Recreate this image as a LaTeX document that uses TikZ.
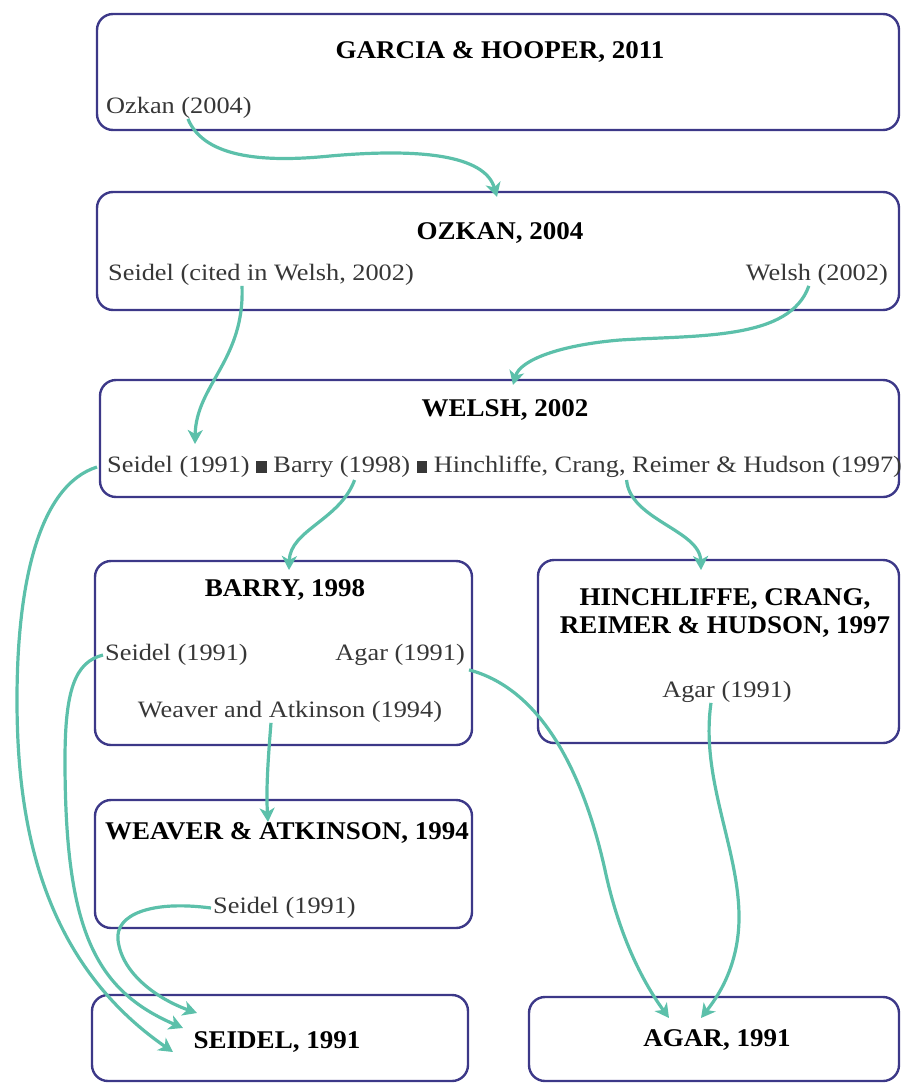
\documentclass[tikz,border=0pt]{standalone}
\usepackage{fontspec}
\setmainfont[FakeStretch=1.12]{Liberation Serif}
\newfontfamily\ttlfont[FakeStretch=1.06]{Liberation Serif}
\usetikzlibrary{arrows.meta}
\definecolor{boxc}{RGB}{60,56,136}
\definecolor{arrc}{RGB}{92,192,170}
\definecolor{reftext}{RGB}{55,55,55}
\tikzset{
  box/.style={draw=boxc, line width=2.4pt, rounded corners=16pt, inner sep=0pt},
  ttl/.style={font=\ttlfont\fontsize{25.5}{28}\selectfont\bfseries, inner sep=0pt, text=black, align=center},
  ref/.style={font=\fontsize{23.5}{27}\selectfont, inner sep=0pt, text=reftext},
  cite/.style={draw=arrc, line width=3.2pt, -{Stealth[length=14pt,width=15pt,inset=4pt]}},
}
\newcommand{\sqsep}{\ \rule{0.45em}{0.5em}\ }
\begin{document}
\begin{tikzpicture}[x=1pt,y=-1pt]
\useasboundingbox (0,0) rectangle (901,1084);
% boxes
\node[box, minimum width=802pt, minimum height=116pt] (bG)  at (498,72) {};
\node[box, minimum width=802pt, minimum height=118pt] (bO)  at (498,251) {};
\node[box, minimum width=799pt, minimum height=117pt] (bW)  at (499.5,438.5) {};
\node[box, minimum width=377pt, minimum height=184pt] (bB)  at (283.5,653) {};
\node[box, minimum width=361pt, minimum height=183pt] (bH)  at (718.5,651.5) {};
\node[box, minimum width=377pt, minimum height=128pt] (bWA) at (283.5,864) {};
\node[box, minimum width=376pt, minimum height=86pt]  (bS)  at (280,1038) {};
\node[box, minimum width=370pt, minimum height=84pt]  (bA)  at (714,1039) {};
% titles
\node[ttl] (hG)  at (500,52)  {GARCIA \& HOOPER, 2011};
\node[ttl] (hO)  at (500,233) {OZKAN, 2004};
\node[ttl] (hW)  at (505,410) {WELSH, 2002};
\node[ttl] (hB)  at (285,590) {BARRY, 1998};
\node[ttl] (hH)  at (725,613) {HINCHLIFFE, CRANG,\\REIMER \& HUDSON, 1997};
\node[ttl] (hWA) at (287,833) {WEAVER \& ATKINSON, 1994};
\node[ttl] (hS)  at (277,1042) {SEIDEL, 1991};
\node[ttl] (hA)  at (717,1040) {AGAR, 1991};
% cited references
\node[ref, anchor=west] (tOzk) at (106,108) {Ozkan (2004)};
\node[ref, anchor=west] (tSC)  at (108,275) {Seidel (cited in Welsh, 2002)};
\node[ref, anchor=east] (tWe)  at (888,275) {Welsh (2002)};
\node[ref, anchor=west] (tWl)  at (107,467) {Seidel (1991)\sqsep Barry (1998)\sqsep Hinchliffe, Crang, Reimer \& Hudson (1997)};
\node[ref, anchor=west] (tBS)  at (105,655) {Seidel (1991)};
\node[ref, anchor=east] (tBA)  at (465,655) {Agar (1991)};
\node[ref] (tBW)  at (290,712) {Weaver and Atkinson (1994)};
\node[ref] (tHA)  at (727,692) {Agar (1991)};
\node[ref, anchor=west] (tWAS) at (213,908) {Seidel (1991)};
% arrow tips
\coordinate (eO)  at (497,197);
\coordinate (eW1) at (195,444);
\coordinate (eW2) at (513,385);
\coordinate (eB)  at (289,570);
\coordinate (eH)  at (701,570);
\coordinate (eWA) at (268,822);
\coordinate (eS1) at (173,1052);
\coordinate (eS2) at (183,1028);
\coordinate (eS3) at (197,1013);
\coordinate (eA1) at (669,1018);
\coordinate (eA2) at (701,1018);
% connectors
\draw[cite] ([xshift=9pt]tOzk.south) .. controls (205,160) and (270,162) .. (330,156)
            .. controls (420,148) and (485,155) .. (eO);
\draw[cite] ([xshift=-19pt]tSC.south) .. controls (245,360) and (196,385) .. (eW1);
\draw[cite] ([xshift=-8pt]tWe.south) .. controls (790,340) and (700,335) .. (620,340)
            .. controls (560,345) and (520,360) .. (eW2);
\draw[cite] ([xshift=-150pt,yshift=-2pt]tWl.south) .. controls (340,520) and (290,530) .. (eB);
\draw[cite] ([xshift=122pt,yshift=-2pt]tWl.south) .. controls (630,520) and (700,530) .. (eH);
\draw[cite] ([xshift=-10pt]tWl.west) .. controls (40,485) and (17,580) .. (17,700)
            .. controls (17,820) and (40,960) .. (eS1);
\draw[cite] ([xshift=-2pt]tBS.west) .. controls (75,662) and (65,690) .. (65,760)
            .. controls (65,930) and (95,990) .. (eS2);
\draw[cite] ([xshift=-2pt]tWAS.west) .. controls (150,900) and (115,915) .. (118,940)
            .. controls (122,975) and (160,1000) .. (eS3);
\draw[cite] ([xshift=-19pt]tBW.south) .. controls (268,760) and (266,790) .. (eWA);
\draw[cite] ([xshift=4pt,yshift=-4pt]tBA.south east) .. controls (545,690) and (585,780) .. (605,870)
            .. controls (620,940) and (645,985) .. (eA1);
\draw[cite] ([xshift=-16pt]tHA.south) .. controls (700,780) and (740,850) .. (739,920)
            .. controls (738,970) and (715,1000) .. (eA2);
\end{tikzpicture}
\end{document}
